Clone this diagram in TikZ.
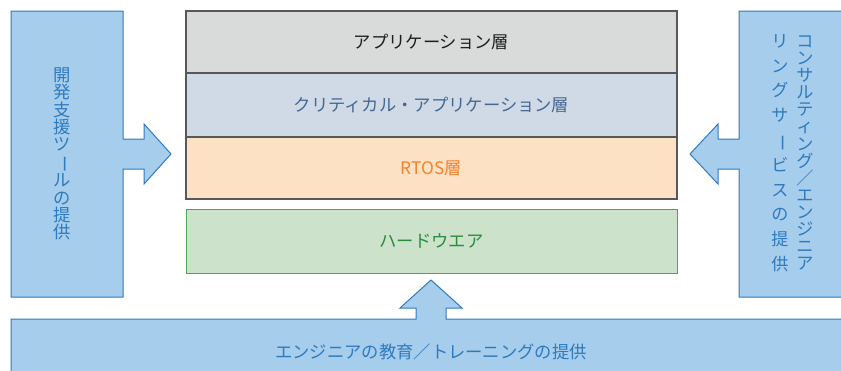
\documentclass[tikz,border=0pt]{standalone}
\usepackage{fontspec}
\setmainfont{Noto Sans CJK JP}
\usepackage{graphicx}
\usepackage{xcolor}
\usepackage{tikz}
\usetikzlibrary{positioning, calc}

\definecolor{svcfill}{RGB}{166,205,236}
\definecolor{svcline}{RGB}{46,122,190}
\definecolor{svctext}{RGB}{46,122,190}
\definecolor{laygray}{RGB}{88,88,88}
\definecolor{appfill}{RGB}{217,218,218}
\definecolor{apptext}{RGB}{30,30,30}
\definecolor{critfill}{RGB}{208,218,230}
\definecolor{crittext}{RGB}{68,104,145}
\definecolor{rtosfill}{RGB}{253,225,197}
\definecolor{rtostext}{RGB}{245,130,40}
\definecolor{hwfill}{RGB}{204,226,202}
\definecolor{hwline}{RGB}{76,166,90}
\definecolor{hwtext}{RGB}{40,140,60}

\begin{document}
\begin{tikzpicture}[
    x=1pt, y=-1pt,
    layer/.style={rectangle, draw=laygray, line width=1.2pt, outer sep=0pt, inner sep=0pt, minimum width=491pt, minimum height=62pt, font=\fontsize{17.3}{20}\selectfont},
    service/.style={draw=svcline, fill=svcfill, line width=1pt},
    vtext/.style={align=center, inner sep=0pt, text=svctext},
    htext/.style={inner sep=0pt, text=svctext, font=\fontsize{17.3}{20}\selectfont}
]
\useasboundingbox (0,0) rectangle (841,370);

% Service shapes with block arrows
\draw[service] (11,11) -- (123,11) -- (123,139) -- (144,139) -- (144,124) -- (171,154) -- (144,184) -- (144,169) -- (123,169) -- (123,297) -- (11,297) -- cycle;
\draw[service] (851,11) -- (739,11) -- (739,139) -- (718,139) -- (718,124) -- (690,154) -- (718,184) -- (718,169) -- (739,169) -- (739,297) -- (851,297) -- cycle;
\draw[service] (11,319) -- (416,319) -- (416,308) -- (400,308) -- (431,280) -- (462,308) -- (446,308) -- (446,319) -- (851,319) -- (851,380) -- (11,380) -- cycle;

% Software layers
\node[layer, fill=appfill, text=apptext] (app) at (431.5,42) {アプリケーション層};
\node[layer, fill=critfill, text=crittext, minimum height=64pt, below=0pt of app] (critical) {クリティカル・アプリケーション層};
\node[layer, fill=rtosfill, text=rtostext, below=0pt of critical] (rtos) {RTOS層};

% Hardware
\node[layer, draw=hwline, line width=1pt, fill=hwfill, text=hwtext, minimum height=64pt, below=10pt of rtos] (hw) {ハードウエア};

% Service labels
\node[vtext, font=\fontsize{17.3}{17.3}\selectfont] (devtools) at (62,154) {開\\発\\支\\援\\ツ\\\rotatebox[origin=c]{-90}{ー}\\ル\\の\\提\\供};
\node[vtext, font=\fontsize{17.1}{17.1}\selectfont] (consult) at (805,153) {コ\\ン\\サ\\ル\\テ\\ィ\\ン\\グ\\／\\エ\\ン\\ジ\\ニ\\ア};
\node[vtext, font=\fontsize{17.1}{24.8}\selectfont] (consult2) at (780,153) {リ\\ン\\グ\\サ\\\rotatebox[origin=c]{-90}{ー}\\ビ\\ス\\の\\提\\供};
\node[htext] (training) at (431,352) {エンジニアの教育／トレーニングの提供};

\end{tikzpicture}
\end{document}
